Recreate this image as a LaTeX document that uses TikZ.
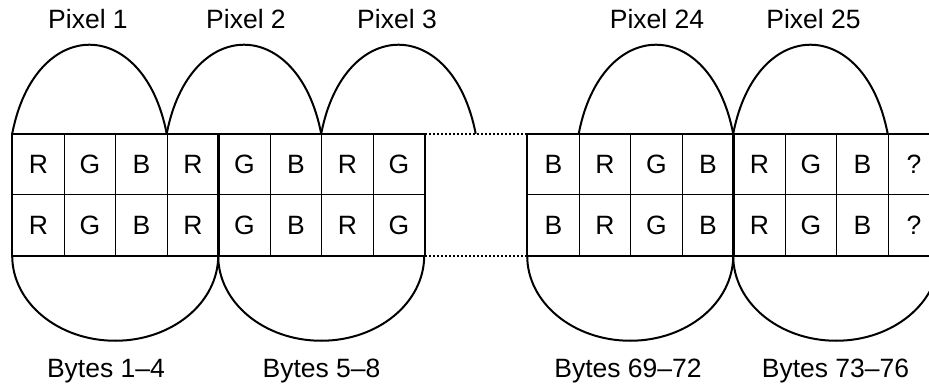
\documentclass[tikz,border=0pt]{standalone}
\usepackage{fontspec}
\setmainfont{Liberation Sans}

\tikzset{
  cell/.style={draw, line width=1pt, minimum width=51.5pt, minimum height=60.5pt,
    inner sep=0pt, text height=19pt, text depth=0pt},
  group/.style={draw, line width=2.2pt},
  brace/.style={line width=2pt},
  gap/.style={line width=1.6pt, dash pattern=on 1.6pt off 2.4pt},
  tag/.style={anchor=base, inner sep=0pt},
}

\begin{document}
\begin{tikzpicture}[x=1pt, y=-1pt, font=\fontsize{26.5}{32}\selectfont]
    \useasboundingbox (0,0) rectangle (929,385);
    % byte cells, two rows
    \foreach \c [count=\i] in {R,G,B,R,G,B,R,G} {
      \node[cell] (L\i-1) at ({12.7+51.5*(\i-0.5)},164.5) {\c};
      \node[cell] (L\i-2) at ({12.7+51.5*(\i-0.5)},225) {\c};
    }
    \foreach \c [count=\i] in {B,R,G,B,R,G,B,?} {
      \node[cell] (R\i-1) at ({527.7+51.5*(\i-0.5)},164.5) {\c};
      \node[cell] (R\i-2) at ({527.7+51.5*(\i-0.5)},225) {\c};
    }
    % 4-byte groups
    \draw[group] (L1-1.north west) rectangle (L4-2.south east);
    \draw[group] (L5-1.north west) rectangle (L8-2.south east);
    \draw[group] (R1-1.north west) rectangle (R4-2.south east);
    \draw[group] (R5-1.north west) rectangle (R8-2.south east);
    % skipped bytes
    \draw[gap] (L8-1.north east) -- (R1-1.north west);
    \draw[gap] (L8-2.south east) -- (R1-2.south west);
    % pixels (3 bytes) above
    \foreach \n in {L1,L4,L7,R2,R5}
      \draw[brace] (\n-1.north west)
        .. controls +(23,-118.7) and +(-23,-118.7) .. ++(154.5,0);
    % words (4 bytes) below
    \foreach \n in {L1,L5,R1,R5}
      \draw[brace] (\n-2.south west)
        arc[start angle=180, end angle=360, x radius=103pt, y radius=85pt];
    % labels
    \node[tag] (pix1)  at (88,29)    {Pixel 1};
    \node[tag] (pix2)  at (246,29)   {Pixel 2};
    \node[tag] (pix3)  at (397,29)   {Pixel 3};
    \node[tag] (pix24) at (657,29)   {Pixel 24};
    \node[tag] (pix25) at (813.5,29) {Pixel 25};
    \node[tag] (byt1)  at (106,377)   {Bytes 1--4};
    \node[tag] (byt5)  at (321.5,377) {Bytes 5--8};
    \node[tag] (byt69) at (628,377)   {Bytes 69--72};
    \node[tag] (byt73) at (835.5,377) {Bytes 73--76};
\end{tikzpicture}
\end{document}
